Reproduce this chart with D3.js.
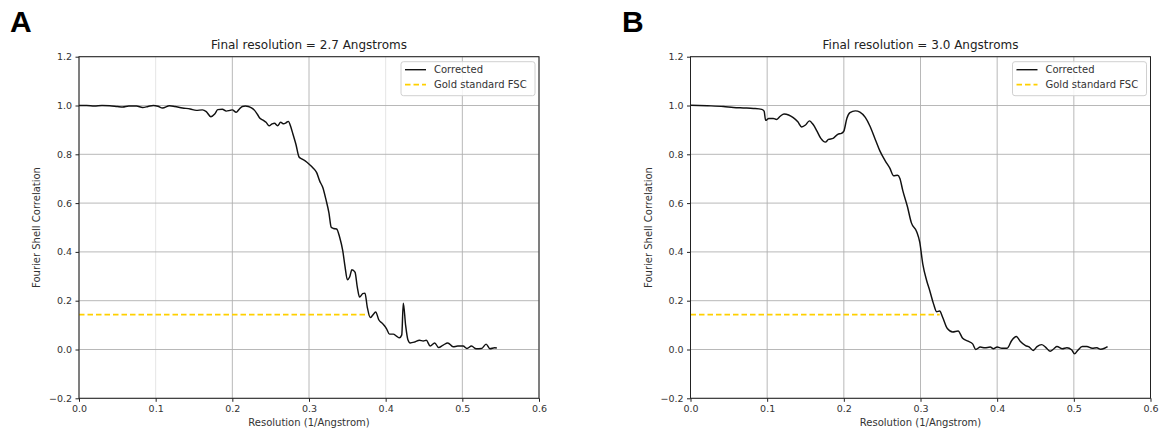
<!DOCTYPE html>
<html>
<head>
<meta charset="utf-8">
<script src="https://cdn.jsdelivr.net/npm/d3@7"></script>
<style>
  html, body { margin: 0; padding: 0; background: #fff; }
  svg { display: block; }
  text { font-family: "DejaVu Sans", sans-serif; fill: #222; }
</style>
</head>
<body>
<svg id="chart" width="1162" height="433"></svg>
<script>
// ---------------- data ----------------
const panelLetters = ["A", "B"];
const titles = ["Final resolution = 2.7 Angstroms", "Final resolution = 3.0 Angstroms"];
const xLabel = "Resolution (1/Angstrom)";
const yLabel = "Fourier Shell Correlation";
const legendLabels = ["Corrected", "Gold standard FSC"];
const xTicks = [0.0, 0.1, 0.2, 0.3, 0.4, 0.5, 0.6];
const yTicks = [-0.2, 0.0, 0.2, 0.4, 0.6, 0.8, 1.0, 1.2];

const resolutionA = [0,0.01,0.02,0.03,0.04,0.05,0.057,0.065,0.075,0.083,0.09,0.097,0.103,0.109,0.118,0.125,0.135,0.145,0.153,0.161,0.166,0.172,0.177,0.181,0.187,0.192,0.197,0.2,0.205,0.209,0.213,0.217,0.221,0.225,0.229,0.233,0.236,0.24,0.244,0.248,0.252,0.255,0.259,0.263,0.267,0.27,0.273,0.276,0.279,0.283,0.287,0.291,0.295,0.3,0.305,0.31,0.314,0.318,0.322,0.326,0.329,0.332,0.336,0.34,0.344,0.347,0.35,0.353,0.356,0.36,0.363,0.366,0.37,0.373,0.376,0.38,0.383,0.387,0.391,0.396,0.401,0.405,0.41,0.414,0.418,0.421,0.423,0.426,0.429,0.432,0.438,0.444,0.449,0.453,0.458,0.464,0.469,0.475,0.481,0.488,0.494,0.501,0.506,0.512,0.518,0.525,0.531,0.536,0.542,0.545];
const fscA = [1.0,1.0,0.998,1.0,0.999,0.996,0.994,0.998,0.998,0.992,0.996,1.0,0.997,0.99,0.999,0.996,0.99,0.986,0.98,0.982,0.975,0.954,0.965,0.983,0.985,0.977,0.98,0.982,0.972,0.985,0.996,0.998,0.996,0.99,0.98,0.962,0.948,0.94,0.931,0.917,0.925,0.927,0.917,0.931,0.925,0.929,0.935,0.915,0.883,0.84,0.789,0.78,0.773,0.76,0.745,0.725,0.69,0.664,0.616,0.56,0.501,0.496,0.494,0.46,0.405,0.34,0.286,0.297,0.327,0.317,0.256,0.215,0.229,0.231,0.174,0.131,0.14,0.154,0.122,0.106,0.086,0.063,0.063,0.055,0.048,0.06,0.19,0.1,0.04,0.027,0.031,0.038,0.035,0.038,0.014,0.027,0.008,0.018,0.027,0.011,0.014,0.014,0.004,0.014,0.003,0.004,0.022,0.003,0.007,0.006];

const resolutionB = [0,0.022,0.043,0.056,0.069,0.082,0.093,0.096,0.098,0.102,0.108,0.112,0.117,0.122,0.128,0.134,0.14,0.145,0.15,0.155,0.16,0.165,0.17,0.176,0.18,0.186,0.192,0.197,0.2,0.204,0.208,0.215,0.221,0.228,0.234,0.241,0.247,0.254,0.26,0.265,0.27,0.273,0.277,0.283,0.288,0.295,0.299,0.303,0.308,0.312,0.317,0.321,0.325,0.329,0.335,0.342,0.349,0.355,0.362,0.368,0.372,0.378,0.384,0.391,0.395,0.4,0.406,0.413,0.419,0.425,0.43,0.437,0.442,0.447,0.452,0.458,0.463,0.469,0.474,0.478,0.485,0.491,0.497,0.501,0.505,0.511,0.517,0.524,0.53,0.535,0.54,0.544];
const fscB = [1.001,0.999,0.996,0.992,0.99,0.988,0.984,0.977,0.939,0.947,0.947,0.943,0.956,0.965,0.961,0.95,0.933,0.912,0.92,0.937,0.922,0.895,0.865,0.85,0.861,0.865,0.882,0.886,0.895,0.948,0.971,0.978,0.973,0.951,0.916,0.861,0.814,0.773,0.743,0.712,0.714,0.702,0.65,0.585,0.52,0.483,0.44,0.35,0.283,0.242,0.187,0.155,0.158,0.131,0.086,0.072,0.076,0.046,0.034,0.023,0.0,0.01,0.007,0.01,0.003,0.01,0.005,0.005,0.037,0.053,0.034,0.016,0.01,-0.004,0.012,0.02,0.01,-0.007,0.003,0.012,0.003,0.007,-0.001,-0.018,-0.004,0.012,0.012,0.005,0.007,0.001,0.005,0.012];

const goldThreshold = [0.143, 0.143];
const goldEndResolution = [0.378, 0.325];

// ---------------- layout ----------------
const svg = d3.select("#chart");
const panelLefts = [79, 690.5];
const plotW = 460, plotTop = 56.7, plotBottom = 398.3;
const letterX = [10, 622];
const datasets = [
  { res: resolutionA, fsc: fscA, lightGrid: [0.1, 0.4] },
  { res: resolutionB, fsc: fscB, lightGrid: [] }
];

datasets.forEach((ds, i) => {
  const left = panelLefts[i], right = left + plotW;
  const x = d3.scaleLinear().domain([0, 0.6]).range([left, right]);
  const y = d3.scaleLinear().domain([-0.2, 1.2]).range([plotBottom, plotTop]);
  const g = svg.append("g");

  // panel letter
  g.append("text").attr("x", letterX[i]).attr("y", 32)
    .style("font-family", "'Liberation Sans', Arial, sans-serif")
    .style("font-weight", "bold").style("font-size", "30px").style("fill", "#000")
    .text(panelLetters[i]);

  // grid
  g.append("g").selectAll("line").data(xTicks).join("line")
    .attr("x1", d => x(d)).attr("x2", d => x(d))
    .attr("y1", plotTop).attr("y2", plotBottom)
    .attr("stroke", d => ds.lightGrid.some(v => Math.abs(v - d) < 1e-9) ? "#e2e2e2" : "#b0b0b0")
    .attr("stroke-width", 0.9);
  g.append("g").selectAll("line").data(yTicks).join("line")
    .attr("x1", left).attr("x2", right)
    .attr("y1", d => y(d)).attr("y2", d => y(d))
    .attr("stroke", "#b0b0b0").attr("stroke-width", 0.9);

  // gold threshold
  const goldLine = d3.line().x(d => x(d[0])).y(d => y(d[1]));
  g.append("path")
    .datum([[0, goldThreshold[i]], [goldEndResolution[i], goldThreshold[i]]])
    .attr("d", goldLine).attr("fill", "none")
    .attr("stroke", "#FFD000").attr("stroke-width", 1.7)
    .attr("stroke-dasharray", "5.5,3");

  // curve
  const pts = ds.res.map((r, k) => [r, ds.fsc[k]]);
  const line = d3.line().x(d => x(d[0])).y(d => y(d[1])).curve(d3.curveMonotoneX);
  g.append("path").datum(pts).attr("d", line).attr("fill", "none")
    .attr("stroke", "#111").attr("stroke-width", 1.45).attr("stroke-linejoin", "round");

  // axes
  const fmt = d3.format(".1f");
  const ax = g.append("g").attr("transform", `translate(0,${plotBottom})`)
    .call(d3.axisBottom(x).tickValues(xTicks).tickFormat(fmt).tickSize(3.5).tickPadding(3.5));
  const ay = g.append("g").attr("transform", `translate(${left},0)`)
    .call(d3.axisLeft(y).tickValues(yTicks).tickFormat(fmt).tickSize(3.5).tickPadding(3.5));
  [ax, ay].forEach(a => {
    a.select(".domain").remove();
    a.selectAll(".tick line").attr("stroke", "#222");
    a.selectAll(".tick text").style("font-family", "'DejaVu Sans', sans-serif")
      .style("font-size", "9.5px").style("fill", "#333");
  });

  // spines
  g.append("rect").attr("x", left).attr("y", plotTop)
    .attr("width", plotW).attr("height", plotBottom - plotTop)
    .attr("fill", "none").attr("stroke", "#222").attr("stroke-width", 1);

  // title and labels
  g.append("text").attr("x", (left + right) / 2).attr("y", 49)
    .attr("text-anchor", "middle").style("font-size", "12px").text(titles[i]);
  g.append("text").attr("x", (left + right) / 2).attr("y", 426)
    .attr("text-anchor", "middle").style("font-size", "10px").style("fill", "#333").text(xLabel);
  g.append("text")
    .attr("transform", `translate(${left - 39},${(plotTop + plotBottom) / 2}) rotate(-90)`)
    .attr("text-anchor", "middle").style("font-size", "10px").style("fill", "#333").text(yLabel);

  // legend
  const bw = 134, bh = 34;
  const bx = right - 4 - bw, by = plotTop + 5;
  const lg = g.append("g");
  lg.append("rect").attr("x", bx).attr("y", by).attr("width", bw).attr("height", bh)
    .attr("rx", 2.5).attr("fill", "#fff").attr("fill-opacity", 0.85)
    .attr("stroke", "#d0d0d0").attr("stroke-width", 1);
  const rows = [
    { label: legendLabels[0], color: "#111", dash: null },
    { label: legendLabels[1], color: "#FFD000", dash: "5.5,3" }
  ];
  rows.forEach((r, k) => {
    const ry = by + 8 + k * 15;
    lg.append("line").attr("x1", bx + 4).attr("x2", bx + 25).attr("y1", ry).attr("y2", ry)
      .attr("stroke", r.color).attr("stroke-width", k === 0 ? 1.4 : 1.7)
      .attr("stroke-dasharray", r.dash);
    lg.append("text").attr("x", bx + 33).attr("y", ry + 3.6)
      .style("font-size", "10px").style("fill", "#333").text(r.label);
  });
});
</script>
</body>
</html>
